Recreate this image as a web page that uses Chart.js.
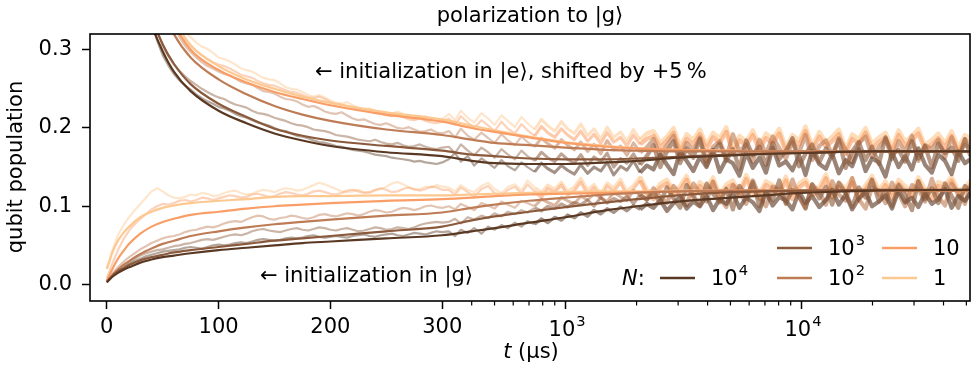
<!DOCTYPE html>
<html>
<head>
<meta charset="utf-8">
<script src="https://cdn.jsdelivr.net/npm/chart.js@4.4.0/dist/chart.umd.min.js"></script>
<style>
  html, body { margin: 0; padding: 0; background: #fff; }
</style>
</head>
<body>
<canvas id="chart" width="972" height="366"></canvas>
<script>
// ---- data (populations in units of 1e-3) ----
const nBase = ['10', '10', '10', '10', '1'];
const nExp = ['4', '3', '2', '', ''];
const nColors = ['#5a3924', '#8b5a3c', '#be7c56', '#f99e66', '#fdc890'];

const xMajorTicks = [0, 100, 200, 300, 1000, 10000];
const xMinorTicks = [400, 500, 600, 700, 800, 900, 2000, 3000, 4000, 5000, 6000, 7000, 8000, 9000, 20000, 30000, 40000, 50000];
const yTicks = [0, 0.1, 0.2, 0.3];

// fit curves
const tFit = [0, 2, 5, 10, 15, 20, 30, 40, 50, 60, 75, 100, 125, 150, 175, 200, 250, 300, 400, 500, 700, 1000, 1500, 2000, 3000, 5000, 7000, 10000, 20000, 52000];

const gFit1e4 = [3, 6, 10, 15, 19, 22, 28, 32, 35, 37, 40, 44, 47, 50, 53, 55, 59, 63, 68, 72, 79, 86, 95, 100, 106, 111, 114, 117, 120, 121];
const gFit1e3 = [3, 6, 11, 17, 21, 25, 31, 35, 38, 41, 44, 48, 52, 56, 59, 62, 68, 74, 82, 87, 93, 99, 105, 109, 114, 118, 119, 120, 121, 121];
const gFit1e2 = [4, 7, 12, 19, 25, 30, 39, 46, 52, 56, 62, 68, 73, 77, 80, 83, 88, 92, 98, 102, 107, 111, 115, 117, 119, 120, 120, 120, 120, 120];
const gFit10 = [5, 11, 20, 33, 43, 52, 65, 74, 80, 84, 89, 93, 97, 100, 102, 104, 107, 109, 111, 113, 115, 116, 117, 118, 119, 120, 120, 120, 120, 120];
const gFit1 = [20, 28, 41, 56, 66, 74, 86, 93, 98, 101, 104, 107, 109, 112, 113, 113, 114, 114, 115, 116, 117, 118, 119, 119, 120, 120, 120, 120, 120, 120];

const eFit1e4 = [1000, 900, 780, 620, 520, 460, 390, 333, 298, 272, 247, 222, 206, 193, 184, 177, 169, 164, 158, 155, 154, 154, 156, 158, 162, 165, 167, 168, 170, 170];
const eFit1e3 = [1000, 910, 790, 640, 540, 480, 405, 343, 307, 282, 256, 231, 214, 199, 190, 184, 177, 171, 166, 164, 161, 160, 160, 161, 163, 166, 167, 168, 170, 170];
const eFit1e2 = [1000, 930, 830, 700, 600, 540, 460, 400, 352, 320, 290, 262, 243, 228, 217, 209, 198, 191, 185, 181, 178, 175, 172, 171, 170, 170, 170, 170, 170, 170];
const eFit10 = [1000, 940, 860, 740, 640, 575, 490, 420, 368, 333, 300, 274, 258, 246, 237, 229, 217, 208, 200, 195, 188, 181, 176, 174, 172, 171, 170, 170, 170, 170];
const eFit1 = [1000, 950, 870, 760, 660, 590, 505, 432, 378, 340, 306, 279, 262, 250, 240, 232, 220, 211, 203, 197, 189, 182, 177, 174, 172, 171, 170, 170, 170, 170];

// measured traces
const tRawLin = [0, 5, 10, 15, 20, 25, 30, 35, 40, 45, 50, 55, 60, 65, 70, 75, 80, 85, 90, 95, 100, 105, 110, 115, 120, 125, 130, 135, 140, 145, 150, 155, 160, 165, 170, 175, 180, 185, 190, 195, 200, 205, 210, 215, 220, 225, 230, 235, 240, 245, 250, 255, 260, 265, 270, 275, 280, 285, 290, 295, 300];
const tRawLog = [320, 340, 360, 385, 410, 440, 470, 500, 535, 570, 610, 650, 690, 740, 790, 840, 900, 960, 1020, 1090, 1160, 1240, 1320, 1410, 1500, 1600, 1710, 1820, 1940, 2070, 2210, 2360, 2520, 2690, 2870, 3060, 3260, 3480, 3710, 3960, 4220, 4500, 4800, 5120, 5460, 5830, 6220, 6630, 7070, 7550, 8050, 8590, 9160, 9770, 10400, 11100, 11900, 12700, 13500, 14400, 15400, 16400, 17500, 18700, 19900, 21300, 22700, 24200, 25800, 27500, 29400, 31300, 33400, 35700, 38000, 40600, 43300, 46200, 49300, 52000];
const tRaw = tRawLin.concat(tRawLog);

const gRaw1e4 = [3, 10, 16, 21, 26, 30, 33, 36, 38, 40, 42, 43, 44, 45, 47, 48, 47, 46, 48, 50, 51, 50, 51, 53, 54, 53, 55, 57, 58, 57, 56, 57, 59, 60, 59, 60, 62, 63, 61, 60, 61, 62, 61, 60, 62, 63, 64, 62, 61, 63, 64, 65, 63, 62, 64, 66, 65, 64, 66, 68, 67,
  68, 62, 70, 66, 72, 65, 74, 70, 76, 72, 79, 74, 81, 77, 84, 79, 86, 82, 89, 85, 92, 87, 95, 90, 97, 92, 99, 94, 101, 96, 103, 98, 108, 94, 104, 112, 97, 106, 100, 113, 95, 109, 103, 116, 98, 111, 105, 94, 118, 101, 112, 107, 96, 119, 104, 113, 99, 108, 121, 102, 115, 96, 110, 118, 100, 106, 114, 97, 120, 105, 111, 99, 116, 103, 109, 122, 98, 113, 107, 117];
const gRaw1e3 = [4, 11, 18, 24, 28, 33, 37, 40, 42, 44, 45, 47, 49, 50, 52, 53, 55, 57, 58, 57, 59, 61, 63, 64, 63, 65, 68, 70, 71, 69, 68, 67, 69, 71, 72, 70, 69, 71, 73, 72, 70, 69, 71, 72, 70, 68, 69, 71, 73, 72, 70, 71, 73, 72, 71, 73, 76, 78, 79, 80, 79,
  80, 84, 78, 86, 83, 88, 85, 91, 87, 93, 90, 95, 92, 98, 94, 100, 97, 103, 99, 105, 102, 108, 100, 111, 104, 110, 106, 113, 103, 115, 108, 118, 104, 124, 110, 98, 127, 113, 101, 129, 116, 105, 122, 96, 126, 112, 131, 100, 119, 108, 133, 103, 121, 114, 97, 128, 110, 125, 102, 130, 117, 99, 124, 111, 134, 106, 120, 100, 127, 115, 95, 132, 109, 123, 104, 129, 113, 98, 126, 118];
const gRaw1e2 = [5, 14, 22, 29, 35, 40, 45, 49, 53, 56, 59, 61, 62, 64, 67, 69, 70, 72, 74, 73, 75, 78, 80, 81, 80, 83, 86, 88, 87, 84, 83, 85, 86, 88, 87, 85, 84, 86, 89, 90, 88, 87, 89, 91, 90, 88, 90, 93, 95, 94, 92, 93, 96, 98, 97, 95, 97, 100, 101, 99, 98,
  100, 96, 103, 99, 95, 104, 101, 97, 106, 102, 98, 107, 104, 100, 109, 105, 101, 111, 107, 103, 113, 108, 116, 111, 106, 118, 112, 107, 120, 114, 109, 123, 112, 104, 126, 115, 101, 129, 117, 106, 131, 110, 99, 127, 119, 103, 133, 113, 100, 125, 121, 105, 134, 111, 98, 128, 118, 102, 132, 115, 107, 136, 109, 97, 124, 120, 104, 130, 116, 100, 127, 122, 106, 135, 112, 101, 129, 117, 103, 126];
const gRaw10 = [8, 27, 44, 58, 69, 77, 84, 90, 96, 100, 103, 102, 104, 107, 108, 106, 108, 111, 110, 108, 110, 112, 114, 113, 111, 112, 115, 116, 114, 112, 113, 116, 118, 117, 115, 114, 116, 119, 120, 118, 116, 115, 117, 120, 121, 119, 117, 118, 121, 123, 121, 118, 119, 122, 124, 122, 120, 122, 125, 124, 121,
  121, 115, 124, 118, 112, 122, 126, 117, 113, 121, 125, 116, 128, 119, 111, 123, 118, 127, 114, 120, 131, 115, 124, 110, 126, 119, 130, 113, 122, 133, 116, 109, 124, 129, 114, 121, 134, 111, 126, 117, 132, 108, 123, 128, 113, 135, 118, 110, 127, 122, 115, 133, 109, 124, 130, 114, 119, 136, 111, 125, 117, 131, 107, 122, 134, 115, 127, 110, 129, 120, 112, 132, 117, 108, 126, 123, 133, 113, 118, 128];
const gRaw1 = [20, 44, 63, 76, 86, 95, 103, 111, 119, 123, 119, 114, 111, 110, 112, 115, 114, 117, 116, 113, 114, 117, 119, 120, 117, 115, 116, 119, 121, 120, 118, 121, 123, 122, 120, 121, 124, 127, 130, 128, 125, 122, 119, 118, 119, 121, 118, 117, 120, 122, 125, 129, 131, 128, 124, 121, 122, 125, 124, 127, 125,
  124, 119, 127, 121, 118, 126, 130, 122, 117, 125, 128, 120, 133, 124, 118, 127, 122, 131, 119, 125, 136, 121, 128, 117, 130, 124, 135, 119, 127, 138, 121, 116, 129, 134, 120, 126, 139, 118, 131, 123, 137, 115, 128, 133, 119, 140, 124, 117, 132, 127, 121, 138, 116, 129, 135, 120, 125, 141, 118, 130, 123, 136, 114, 127, 139, 121, 132, 117, 134, 126, 119, 137, 123, 115, 131, 128, 138, 120, 124, 133];

const eRaw1e4 = [1000, 910, 800, 670, 570, 500, 430, 375, 335, 312, 293, 280, 269, 261, 254, 249, 243, 238, 234, 231, 227, 225, 222, 218, 215, 213, 210, 207, 205, 203, 200, 197, 196, 193, 190, 189, 187, 184, 182, 181, 179, 177, 176, 174, 172, 171, 170, 168, 166, 165, 164, 162, 161, 160, 159, 157, 158, 156, 155, 154, 156,
  160, 168, 157, 164, 152, 161, 155, 149, 159, 151, 146, 156, 150, 144, 155, 148, 143, 152, 146, 141, 153, 142, 150, 145, 156, 140, 151, 146, 158, 143, 152, 147, 166, 153, 141, 170, 158, 145, 163, 150, 172, 144, 160, 155, 139, 168, 149, 162, 143, 175, 152, 157, 146, 165, 140, 171, 154, 148, 167, 142, 159, 151, 173, 145, 161, 156, 138, 169, 150, 164, 147, 174, 153, 143, 166, 158, 141, 170, 155, 160];
const eRaw1e3 = [1000, 920, 820, 690, 590, 520, 450, 395, 350, 325, 305, 292, 281, 273, 266, 260, 255, 250, 246, 242, 239, 237, 233, 230, 228, 226, 222, 219, 218, 216, 213, 211, 209, 206, 204, 203, 201, 198, 197, 196, 194, 191, 190, 189, 187, 185, 184, 183, 185, 182, 180, 179, 181, 178, 176, 177, 179, 176, 174, 173, 175,
  176, 168, 179, 171, 165, 175, 169, 162, 173, 166, 160, 171, 164, 158, 169, 162, 157, 167, 160, 155, 166, 152, 163, 157, 168, 150, 161, 155, 167, 153, 164, 178, 150, 170, 183, 155, 174, 162, 186, 152, 169, 180, 158, 173, 148, 184, 165, 176, 153, 181, 160, 171, 187, 151, 167, 179, 156, 174, 163, 185, 149, 170, 182, 159, 176, 154, 188, 166, 172, 157, 183, 161, 177, 150, 180, 168, 175, 158, 186, 164];
const eRaw1e2 = [1000, 950, 880, 790, 700, 630, 560, 500, 450, 410, 376, 351, 332, 316, 305, 297, 290, 284, 279, 276, 272, 269, 267, 263, 259, 257, 255, 251, 247, 246, 244, 240, 237, 236, 234, 230, 227, 228, 225, 221, 219, 218, 220, 216, 212, 210, 211, 208, 205, 204, 206, 203, 200, 199, 201, 198, 195, 196, 198, 194, 193,
  196, 188, 199, 190, 185, 194, 187, 181, 192, 184, 178, 189, 182, 176, 187, 180, 174, 185, 178, 172, 182, 170, 179, 167, 184, 172, 177, 165, 181, 169, 175, 186, 164, 178, 190, 160, 181, 171, 188, 158, 176, 183, 162, 192, 170, 179, 157, 185, 167, 189, 174, 161, 182, 168, 191, 159, 177, 184, 165, 187, 172, 156, 180, 189, 163, 175, 186, 160, 183, 169, 190, 158, 178, 173, 185, 162, 188, 166, 179, 174];
const eRaw10 = [1000, 940, 860, 750, 660, 590, 520, 460, 415, 385, 361, 343, 330, 320, 312, 304, 298, 293, 288, 284, 281, 279, 276, 272, 268, 266, 264, 260, 257, 255, 254, 251, 248, 246, 245, 242, 239, 238, 240, 237, 233, 231, 230, 228, 226, 224, 223, 221, 219, 218, 216, 215, 217, 214, 211, 210, 212, 209, 207, 206, 208,
  212, 204, 215, 207, 200, 210, 203, 196, 208, 199, 193, 205, 197, 190, 202, 194, 188, 199, 191, 185, 196, 183, 192, 180, 194, 182, 188, 177, 191, 179, 186, 190, 175, 184, 194, 170, 186, 179, 192, 173, 188, 181, 195, 168, 184, 177, 191, 172, 187, 180, 193, 169, 185, 178, 196, 171, 189, 176, 183, 192, 167, 186, 180, 194, 174, 182, 188, 170, 191, 177, 184, 193, 172, 179, 187, 175, 190, 169, 185, 181];
const eRaw1 = [1000, 930, 850, 760, 680, 610, 550, 490, 440, 405, 375, 355, 340, 331, 322, 316, 309, 304, 301, 296, 290, 288, 285, 281, 276, 274, 272, 268, 264, 262, 261, 257, 252, 250, 249, 246, 242, 240, 242, 239, 235, 232, 231, 233, 229, 226, 224, 225, 222, 219, 217, 218, 221, 218, 214, 211, 213, 215, 212, 209, 211,
  218, 210, 222, 213, 207, 219, 212, 204, 216, 209, 201, 214, 206, 198, 211, 203, 196, 208, 199, 193, 205, 190, 199, 186, 201, 188, 195, 183, 198, 185, 193, 196, 181, 189, 200, 176, 192, 185, 198, 179, 194, 187, 201, 174, 190, 183, 197, 178, 193, 186, 199, 175, 191, 184, 202, 177, 195, 182, 189, 198, 173, 192, 186, 200, 180, 188, 194, 176, 197, 183, 190, 199, 178, 185, 193, 181, 196, 175, 191, 187];

const gFits = [gFit1e4, gFit1e3, gFit1e2, gFit10, gFit1];
const eFits = [eFit1e4, eFit1e3, eFit1e2, eFit10, eFit1];
const gRaws = [gRaw1e4, gRaw1e3, gRaw1e2, gRaw10, gRaw1];
const eRaws = [eRaw1e4, eRaw1e3, eRaw1e2, eRaw10, eRaw1];
const rawOrder = [2, 1, 3, 4, 5];

// ---- axis: linear up to 300 us, logarithmic above ----
const LIN_END = 300;
const DECADE = 211;   // width of one decade in linear units

class LinLogScale extends Chart.LinearScale {
  static id = 'linlog';
  static defaults = {};

  toU(v) {
    return v <= LIN_END ? v : LIN_END + DECADE * Math.log10(v / LIN_END);
  }
  fromU(u) {
    return u <= LIN_END ? u : LIN_END * Math.pow(10, (u - LIN_END) / DECADE);
  }
  buildTicks() {
    return xMajorTicks.map(v => ({ value: v }));
  }
  getPixelForValue(value) {
    const u0 = this.toU(this.min);
    const u1 = this.toU(this.max);
    return this.getPixelForDecimal((this.toU(value) - u0) / (u1 - u0));
  }
  getValueForPixel(pixel) {
    const u0 = this.toU(this.min);
    const u1 = this.toU(this.max);
    return this.fromU(u0 + this.getDecimalForPixel(pixel) * (u1 - u0));
  }
}
Chart.register(LinLogScale);

function rgba(hex, a) {
  const n = parseInt(hex.slice(1), 16);
  return `rgba(${n >> 16},${(n >> 8) & 255},${n & 255},${a})`;
}

function makeSeries(ts, vals, color, width, order, smooth) {
  return {
    data: ts.map((t, i) => ({ x: t, y: vals[i] / 1000 })),
    borderColor: color,
    borderWidth: width,
    pointRadius: 0,
    fill: false,
    order: order,
    cubicInterpolationMode: smooth ? 'monotone' : 'default',
    tension: 0,
    borderJoinStyle: 'round'
  };
}

// measured traces get denser (more overlap) at long times
function rawSeries(vals, color, order) {
  const ds = makeSeries(tRaw, vals, rgba(color, 0.45), 2.2, order, false);
  ds.segment = {
    borderColor: c => {
      const t = c.p0.parsed.x;
      return rgba(color, t < 700 ? 0.45 : t < 2000 ? 0.55 : 0.62);
    },
    borderWidth: c => {
      const t = c.p0.parsed.x;
      return t < 700 ? 2.2 : t < 2000 ? 3 : 4.2;
    }
  };
  return ds;
}

const datasets = [];
nColors.forEach((c, i) => {
  datasets.push(makeSeries(tFit, gFits[i], c, 2.2, 0, true));
  datasets.push(makeSeries(tFit, eFits[i], c, 2.2, 0, true));
});
nColors.forEach((c, i) => {
  datasets.push(rawSeries(gRaws[i], c, rawOrder[i]));
  datasets.push(rawSeries(eRaws[i], c, rawOrder[i]));
});

const FONT = '"DejaVu Sans", sans-serif';
const FS = 21;

// "10" with a raised exponent
function drawPower(ctx, base, exp, x, y, align) {
  ctx.font = `${FS}px ${FONT}`;
  const wb = ctx.measureText(base).width;
  ctx.font = `${FS * 0.7}px ${FONT}`;
  const we = exp ? ctx.measureText(exp).width : 0;
  const x0 = align === 'center' ? x - (wb + we) / 2 : x;
  ctx.textAlign = 'left';
  ctx.font = `${FS}px ${FONT}`;
  ctx.fillText(base, x0, y);
  if (exp) {
    ctx.font = `${FS * 0.7}px ${FONT}`;
    ctx.fillText(exp, x0 + wb + 1, y - 9);
  }
}

// frame, minor ticks, title, labels, annotations and legend
const decorPlugin = {
  id: 'decor',
  afterDraw(chart) {
    const { ctx, chartArea: a } = chart;
    const xs = chart.scales.x;
    ctx.save();
    ctx.strokeStyle = '#000';
    ctx.lineWidth = 1.6;
    ctx.strokeRect(a.left, a.top, a.right - a.left, a.bottom - a.top);

    ctx.lineWidth = 1.2;
    xMinorTicks.forEach(v => {
      const px = xs.getPixelForValue(v);
      ctx.beginPath();
      ctx.moveTo(px, a.bottom);
      ctx.lineTo(px, a.bottom + 4.5);
      ctx.stroke();
    });

    ctx.fillStyle = '#000';
    ctx.textBaseline = 'middle';

    // power-of-ten tick labels
    drawPower(ctx, '10', '3', xs.getPixelForValue(1000) + 1, 331, 'center');
    drawPower(ctx, '10', '4', xs.getPixelForValue(10000) + 1, 331, 'center');

    ctx.font = `${FS}px ${FONT}`;
    ctx.textAlign = 'center';
    ctx.fillText('polarization to |g⟩', (a.left + a.right) / 2, 17);

    ctx.save();
    ctx.translate(17, 167);
    ctx.rotate(-Math.PI / 2);
    ctx.fillText('qubit population', 0, 0);
    ctx.restore();

    // x title: italic t
    ctx.textAlign = 'left';
    const rest = ' (µs)';
    ctx.font = `italic ${FS}px ${FONT}`;
    const wt = ctx.measureText('t').width;
    ctx.font = `${FS}px ${FONT}`;
    const wr = ctx.measureText(rest).width;
    const x0 = 531 - (wt + wr) / 2;
    ctx.font = `italic ${FS}px ${FONT}`;
    ctx.fillText('t', x0, 353);
    ctx.font = `${FS}px ${FONT}`;
    ctx.fillText(rest, x0 + wt, 353);

    ctx.fillText('← initialization in |e⟩, shifted by +5\u2009%', 315, 73);
    ctx.fillText('← initialization in |g⟩', 260, 277);

    // legend
    ctx.font = `italic ${FS}px ${FONT}`;
    ctx.fillText('N', 622, 280);
    const wn = ctx.measureText('N').width;
    ctx.font = `${FS}px ${FONT}`;
    ctx.fillText(':', 622 + wn, 280);

    const slots = [[660, 278], [777, 248], [777, 278], [882, 248], [882, 278]];
    slots.forEach(([lx, ly], i) => {
      ctx.lineWidth = 2.7;
      ctx.strokeStyle = nColors[i];
      ctx.beginPath();
      ctx.moveTo(lx, ly);
      ctx.lineTo(lx + 35, ly);
      ctx.stroke();
      drawPower(ctx, nBase[i], nExp[i], lx + 51, ly + 2, 'left');
    });
    ctx.restore();
  }
};

new Chart(document.getElementById('chart'), {
  type: 'line',
  data: { datasets },
  options: {
    responsive: false,
    devicePixelRatio: 1,
    animation: false,
    events: [],
    layout: { padding: { top: 34, right: 2, left: 0, bottom: 0 } },
    plugins: {
      legend: { display: false },
      tooltip: { enabled: false },
      title: { display: false }
    },
    scales: {
      x: {
        type: 'linlog',
        min: -15,
        max: 51800,
        afterFit: s => { s.height = 65; },
        border: { display: false },
        grid: { drawOnChartArea: false, drawTicks: true, tickLength: 8, tickWidth: 1.5, tickColor: '#000' },
        ticks: {
          autoSkip: false,
          maxRotation: 0,
          padding: 6,
          color: '#000',
          font: { family: 'DejaVu Sans', size: FS },
          callback: v => (v >= 1000 ? '' : String(v))
        }
      },
      y: {
        type: 'linear',
        min: -0.021,
        max: 0.32,
        afterFit: s => { s.width = 90; },
        afterBuildTicks: s => { s.ticks = yTicks.map(v => ({ value: v })); },
        border: { display: false },
        grid: { drawOnChartArea: false, drawTicks: true, tickLength: 8, tickWidth: 1.5, tickColor: '#000' },
        ticks: {
          padding: 10,
          color: '#000',
          font: { family: 'DejaVu Sans', size: FS },
          callback: v => v.toFixed(1)
        }
      }
    }
  },
  plugins: [decorPlugin]
});
</script>
</body>
</html>
